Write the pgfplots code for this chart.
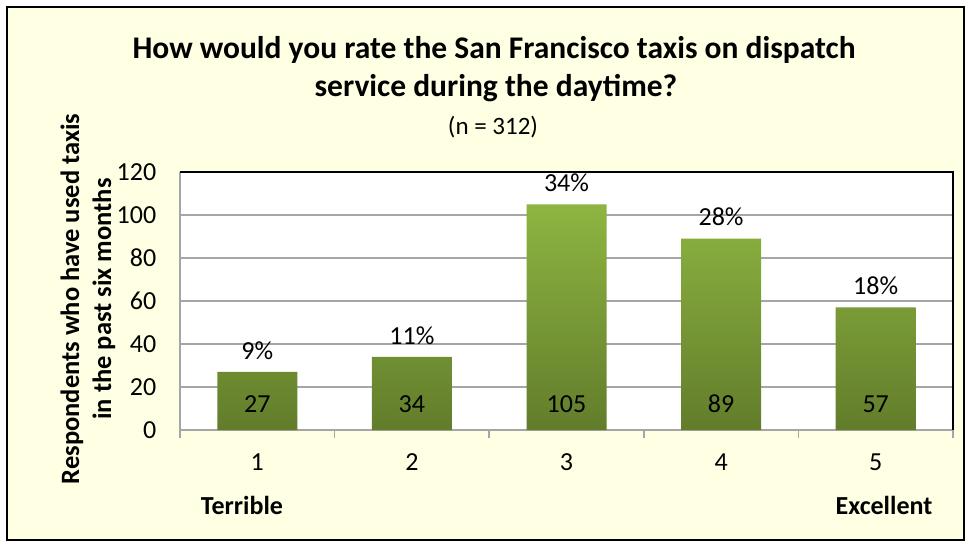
\documentclass[border=0pt]{standalone}
\usepackage{fontspec}
\setmainfont{Carlito}
\usepackage{pgfplots}
\usepackage{pgfplotstable}
\pgfplotsset{compat=1.18}
\definecolor{bgyellow}{HTML}{FFFFE3}
\definecolor{bartop}{HTML}{8EB541}
\definecolor{barbot}{HTML}{627D2B}
\definecolor{gridgray}{HTML}{A6A6A6}

\pgfplotstableread{
x y pct
1 27 9
2 34 11
3 105 34
4 89 28
5 57 18
}\ratings

\begin{document}
\begin{tikzpicture}
% page and chart frame
\fill[white] (0pt,0pt) rectangle (969pt,547pt);
\draw[line width=2pt, fill=bgyellow] (7pt,7pt) rectangle (964pt,540pt);

% title
\node[font=\fontsize{31.5}{36}\selectfont\bfseries] at (494pt,497pt) {How would you rate the San Francisco taxis on dispatch};
\node[font=\fontsize{31.5}{36}\selectfont\bfseries] at (496pt,459pt) {service during the daytime?};
\node[font=\fontsize{25}{30}\selectfont] at (493pt,420pt) {(n = 312)};

% y label
\node[rotate=90, align=center, font=\fontsize{26.5}{32}\selectfont\bfseries] at (88pt,248pt)
  {Respondents who have used taxis\\in the past six months};

\begin{axis}[
  at={(180pt,117pt)}, anchor=south west,
  width=773pt, height=258pt, scale only axis,
  xmin=0.5, xmax=5.5, ymin=0, ymax=120,
  axis background/.style={fill=white},
  axis lines=left, axis line style={-, gridgray, line width=1.5pt},
  xtick={1,2,3,4,5},
  minor xtick={0.5,1.5,2.5,3.5,4.5,5.5},
  major x tick style={draw=none},
  minor tick length=8pt,
  tick align=outside,
  minor x tick style={gridgray, line width=1.5pt},
  ytick={0,20,40,60,80,100,120},
  major y tick style={draw=none},
  ymajorgrids, grid style={gridgray, line width=1.5pt},
  tick label style={font=\fontsize{26}{30}\selectfont},
  /pgf/number format/assume math mode=true,
  xticklabel style={yshift=-16pt},
  yticklabel style={xshift=-16pt},
  clip=false,
]
% plot-area frame on top and right
\draw[black, line width=1.5pt] (rel axis cs:0,1) -- (rel axis cs:1,1) -- (rel axis cs:1,0);
\addplot[ybar, bar width=80pt, draw=none, top color=bartop, bottom color=barbot,
  point meta=explicit symbolic,
  nodes near coords={\pgfplotspointmeta\%},
  every node near coord/.append style={font=\fontsize{26}{30}\selectfont, yshift=9pt}]
  table[x=x, y=y, meta=pct] {\ratings};
\node[font=\fontsize{26}{30}\selectfont, yshift=26pt] at (axis cs:1,0) {27};
\node[font=\fontsize{26}{30}\selectfont, yshift=26pt] at (axis cs:2,0) {34};
\node[font=\fontsize{26}{30}\selectfont, yshift=26pt] at (axis cs:3,0) {105};
\node[font=\fontsize{26}{30}\selectfont, yshift=26pt] at (axis cs:4,0) {89};
\node[font=\fontsize{26}{30}\selectfont, yshift=26pt] at (axis cs:5,0) {57};
\end{axis}

\node[font=\fontsize{26}{30}\selectfont\bfseries] at (242pt,42pt) {Terrible};
\node[font=\fontsize{26}{30}\selectfont\bfseries] at (884pt,42pt) {Excellent};
\end{tikzpicture}
\end{document}
